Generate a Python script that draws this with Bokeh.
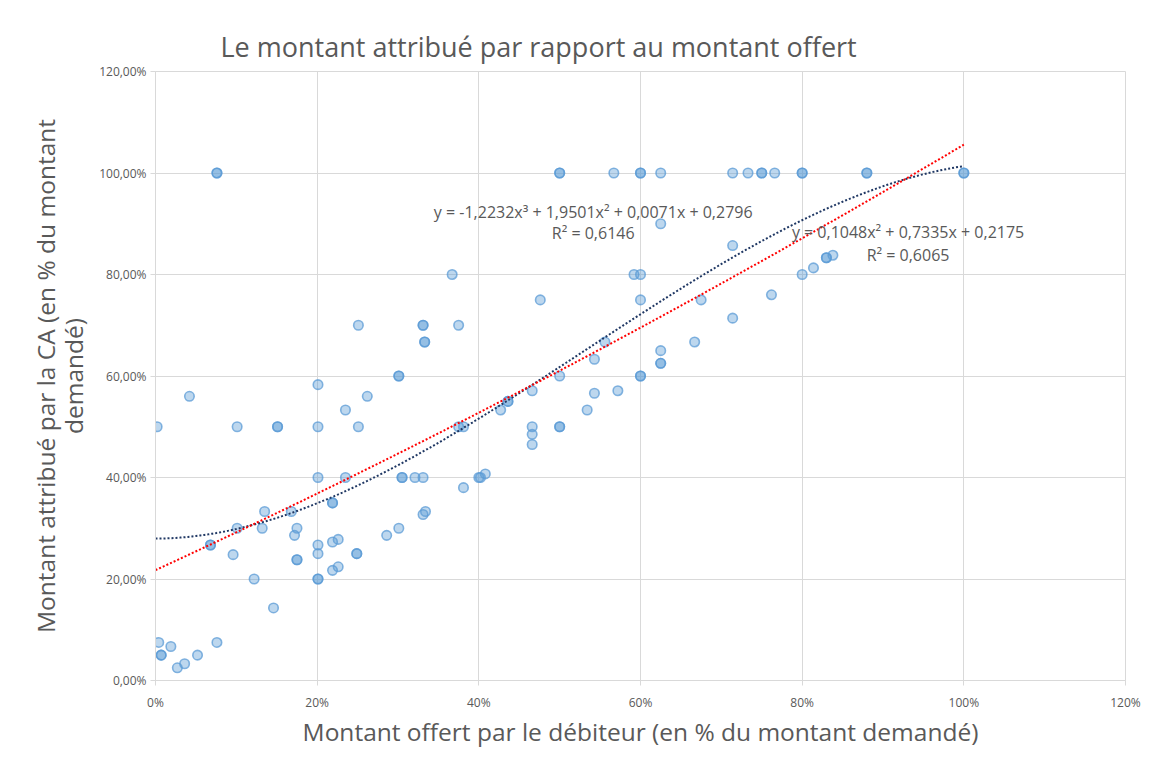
import numpy as np
from bokeh.plotting import figure
from bokeh.models import ColumnDataSource, FixedTicker, CustomJSTickFormatter, Label, Range1d
from bokeh.embed import file_html
from bokeh.resources import INLINE

# Offered amount (% of requested) and awarded amount (% of requested)
offert_pct = [
    36.7, 25.1, 37.5, 20.1, 4.2, 26.2, 23.5, 0.2, 10.1, 20.1, 25.1, 37.5, 38.1,
    56.7, 62.5, 71.4, 73.3, 76.6, 62.5, 71.4, 59.2, 60.0, 80.0, 81.4, 83.0, 83.8,
    47.6, 60.0, 67.5, 76.2, 71.4, 66.7, 55.6, 62.5, 54.3, 50.0, 46.6, 54.3, 57.2,
    53.4, 42.7, 46.6, 46.6, 46.6, 40.8, 20.1, 23.5, 32.1, 33.1, 38.1, 13.5, 16.8,
    10.1, 13.2, 17.5, 17.2, 28.6, 20.1, 21.9, 22.6, 9.6, 20.1, 21.9, 22.6, 12.2,
    14.6, 0.4, 7.6, 1.9, 5.2, 2.7, 3.6, 30.1,
    7.6, 7.6, 33.1, 33.1, 33.3, 33.3, 30.1, 30.1, 15.1, 15.1, 50.0, 50.0,
    60.0, 60.0, 75.0, 75.0, 80.0, 80.0, 88.0, 88.0, 100.0, 100.0, 62.5, 62.5,
    60.0, 60.0, 43.6, 43.6, 50.0, 50.0, 30.5, 30.5, 40.0, 40.2, 21.9, 21.9,
    33.1, 33.4, 6.8, 6.8, 24.9, 24.9, 17.5, 17.5, 20.1, 20.1, 0.7, 0.7, 83.0,
]
attribue_pct = [
    80.0, 70.0, 70.0, 58.3, 56.0, 56.0, 53.3, 50.0, 50.0, 50.0, 50.0, 50.0, 50.0,
    100.0, 100.0, 100.0, 100.0, 100.0, 90.0, 85.7, 80.0, 80.0, 80.0, 81.3, 83.3, 83.8,
    75.0, 75.0, 75.0, 76.0, 71.4, 66.7, 66.7, 65.0, 63.3, 60.0, 57.1, 56.6, 57.1,
    53.3, 53.3, 50.0, 48.5, 46.5, 40.7, 40.0, 40.0, 40.0, 40.0, 38.0, 33.3, 33.3,
    30.0, 30.0, 30.0, 28.6, 28.6, 26.7, 27.3, 27.8, 24.8, 25.0, 21.7, 22.4, 20.0,
    14.3, 7.5, 7.5, 6.7, 5.0, 2.5, 3.3, 30.0,
    100.0, 100.0, 70.0, 70.0, 66.7, 66.7, 60.0, 60.0, 50.0, 50.0, 100.0, 100.0,
    100.0, 100.0, 100.0, 100.0, 100.0, 100.0, 100.0, 100.0, 100.0, 100.0, 62.5, 62.5,
    60.0, 60.0, 55.0, 55.0, 50.0, 50.0, 40.0, 40.0, 40.0, 40.0, 35.0, 35.0,
    32.7, 33.3, 26.7, 26.7, 25.0, 25.0, 23.8, 23.8, 20.0, 20.0, 5.0, 5.0, 83.3,
]

# Trend line coefficients as displayed on the chart (highest degree first)
poly3_coefs = [-1.2232, 1.9501, 0.0071, 0.2796]
poly2_coefs = [0.1048, 0.7335, 0.2175]
eq3_text = "y = -1,2232x³ + 1,9501x² + 0,0071x + 0,2796"
r2_3_text = "R² = 0,6146"
eq2_text = "y = 0,1048x² + 0,7335x + 0,2175"
r2_2_text = "R² = 0,6065"

x_ticks = [0, 0.2, 0.4, 0.6, 0.8, 1.0, 1.2]
y_ticks = [0, 0.2, 0.4, 0.6, 0.8, 1.0, 1.2]

TXT = "#595959"
GRID = "#D9D9D9"
FONT = "Open Sans"

p = figure(width=1149, height=758, output_backend="svg", toolbar_location=None,
           x_range=Range1d(0, 1.2), y_range=Range1d(0, 1.2),
           min_border_left=155, min_border_right=24, min_border_top=71,
           min_border_bottom=78)

p.title.text = "Le montant attribué par rapport au montant offert"
p.title.text_font = FONT
p.title.text_font_size = "27px"
p.title.text_font_style = "normal"
p.title.text_color = TXT
p.title.align = "left"
p.title.offset = 65
p.title.standoff = 14

p.outline_line_color = GRID
p.xgrid.grid_line_color = GRID
p.ygrid.grid_line_color = GRID
p.xgrid.ticker = FixedTicker(ticks=x_ticks)
p.ygrid.ticker = FixedTicker(ticks=y_ticks)

p.xaxis.ticker = FixedTicker(ticks=x_ticks)
p.yaxis.ticker = FixedTicker(ticks=y_ticks)
p.xaxis.formatter = CustomJSTickFormatter(code="return Math.round(tick*100) + '%';")
p.yaxis.formatter = CustomJSTickFormatter(code="return (tick*100).toFixed(2).replace('.', ',') + '%';")
for ax in (p.xaxis, p.yaxis):
    ax.axis_line_color = GRID
    ax.major_tick_line_color = GRID
    ax.major_tick_out = 5
    ax.major_tick_in = 0
    ax.minor_tick_line_color = None
    ax.major_label_text_font = FONT
    ax.major_label_text_font_size = "12px"
    ax.major_label_text_color = TXT
    ax.axis_label_text_font = FONT
    ax.axis_label_text_font_size = "24.5px"
    ax.axis_label_text_font_style = "normal"
    ax.axis_label_text_color = TXT
p.xaxis.major_label_standoff = 8
p.yaxis.major_label_standoff = 4
p.xaxis.axis_label = "Montant offert par le débiteur (en % du montant demandé)"
p.yaxis.axis_label = "Montant attribué par la CA (en % du montant\ndemandé)"
p.yaxis.axis_label_text_line_height = 0.85
p.xaxis.axis_label_standoff = 1
p.yaxis.axis_label_standoff = 6

src = ColumnDataSource(dict(x=[v / 100 for v in offert_pct],
                            y=[v / 100 for v in attribue_pct]))
p.scatter("x", "y", source=src, size=9.5, fill_color="#5B9BD5", fill_alpha=0.4,
          line_color="#5B9BD5", line_alpha=0.75, line_width=1.6)

xs = np.linspace(0, 1, 200)
p.line(xs, np.polyval(poly3_coefs, xs), line_color="#203864", line_width=2, line_dash="2 2")
p.line(xs, np.polyval(poly2_coefs, xs), line_color="#FF0000", line_width=2, line_dash="2 2")

for txt, x, y in [(eq3_text, 0.5415, 0.923), (r2_3_text, 0.5415, 0.882),
                  (eq2_text, 0.931, 0.884), (r2_2_text, 0.931, 0.838)]:
    p.add_layout(Label(x=x, y=y, text=txt, text_align="center", text_baseline="middle",
                       text_font=FONT, text_font_size="16px", text_color=TXT))

open("out.html", "w").write(file_html(p, INLINE))
